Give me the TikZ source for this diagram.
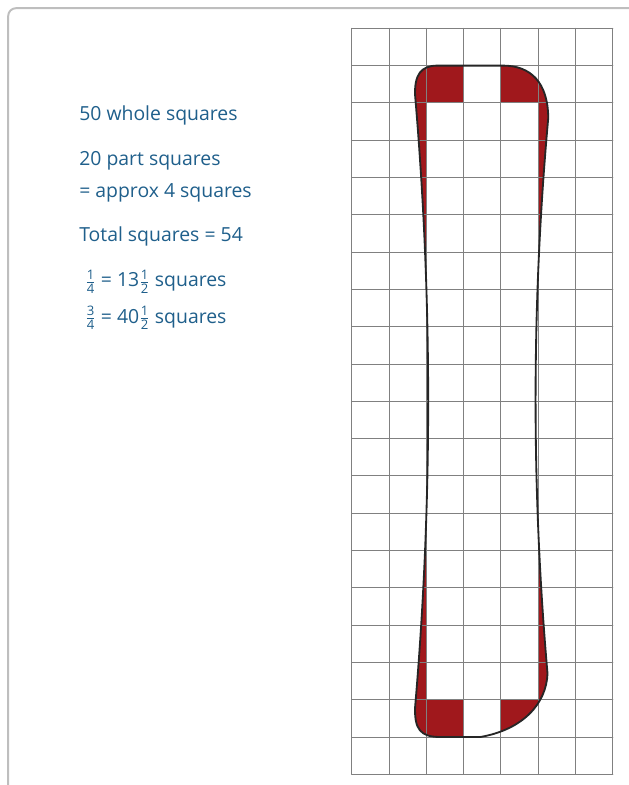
\documentclass[tikz,border=0pt]{standalone}
\usepackage{amsmath}
\usepackage{fontspec}
\setmainfont{Open Sans}
\definecolor{partred}{RGB}{160,24,28}
\definecolor{inkblue}{RGB}{31,95,139}
\definecolor{framegray}{RGB}{190,190,190}
\tikzset{
  gridline/.style={draw=black!50, line width=0.7pt},
  outline/.style={draw=black!85, line width=1.4pt, line join=round},
  note/.style={anchor=base west, inner sep=0pt, text=inkblue, font=\fontsize{14.8}{17}\selectfont},
}
\newcommand\bonepath{(2.3,19) -- (4.06,19)
  .. controls (4.8,19) and (5.26,18.55) .. (5.27,17.6)
  .. controls (4.823,12.63) and (4.817,7.67) .. (5.25,2.7)
  .. controls (5.22,1.9) and (4.6,1.2) .. (3.45,1)
  -- (2.37,1)
  .. controls (1.85,1) and (1.68,1.2) .. (1.70,1.8)
  .. controls (2.167,7.27) and (2.167,12.73) .. (1.70,18.2)
  .. controls (1.68,18.75) and (1.85,19) .. (2.3,19) -- cycle}
\newcommand\numfrac[2]{\ensuremath{\genfrac{}{}{0.5pt}{1}{\hbox{\fontsize{10}{10}\selectfont #1}}{\hbox{\fontsize{10}{10}\selectfont #2}}}}
\begin{document}
\begin{tikzpicture}[line join=round, line cap=round]
	\useasboundingbox (-9.429,-0.287) rectangle (7.434,20.759);
	\clip (-9.429,-0.287) rectangle (7.434,20.759);
	% frame round the whole panel
	\draw[framegray, line width=1.5pt, rounded corners=6pt] (-9.21,-3) rectangle (10,20.54);
	% part squares in red
	\begin{scope}
		\clip \bonepath;
		\fill[partred] (0,0) rectangle (7,20);
		\fill[white] (2,2) rectangle (5,18) (3,1) rectangle (4,19);
	\end{scope}
	\draw[gridline] (0,0) grid (7,20);
	\draw[outline] \bonepath;
	% working
	\node[note] (whole) at (-7.31,17.52) {50 whole squares};
	\node[note] (part) at (-7.31,16.31) {20 part squares};
	\node[note] (approx) at (-7.31,15.47) {= approx 4 squares};
	\node[note] (total) at (-7.31,14.28) {Total squares = 54};
	\node[note] (quarter) at (-7.15,13.07) {\numfrac14 = 13\numfrac12{} squares};
	\node[note] (threeq) at (-7.15,12.09) {\numfrac34 = 40\numfrac12{} squares};
\end{tikzpicture}
\end{document}
